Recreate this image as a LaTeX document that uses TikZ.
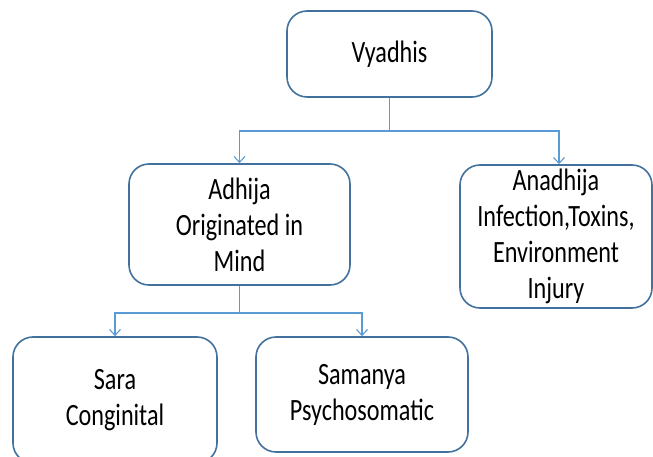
\documentclass[tikz,border=0pt]{standalone}
\usepackage{fontspec}
\newfontfamily\cf[FakeStretch=0.78]{Carlito}
\usetikzlibrary{arrows.meta}
\definecolor{boxline}{HTML}{41719C}
\definecolor{connline}{HTML}{5B9BD5}
\begin{document}
\begin{tikzpicture}[x=1pt,y=1pt,
  box/.style={draw=boxline, line width=1.6pt, rounded corners=20pt, fill=white,
    align=center, inner sep=0pt, font=\cf\fontsize{31}{36}\selectfont, text=black},
  conn/.style={draw=connline, line width=1.3pt},
  arr/.style={conn, -{Straight Barb[length=6pt,width=11pt,line width=1.1pt]}}]
\useasboundingbox (0,0) rectangle (653,-457);
\begin{scope}
\clip (0,0) rectangle (653,-457);
\node[box, minimum width=205pt, minimum height=86pt] (v) at (389.5,-54) {Vyadhis};
\node[box, minimum width=221pt, minimum height=121pt] (a) at (239.5,-224.5) {Adhija\\Originated in\\Mind};
\node[box, minimum width=192pt, minimum height=143pt] (an) at (556,-236.5) {Anadhija\\Infection,Toxins,\\Environment\\Injury};
\node[box, minimum width=204pt, minimum height=126pt] (s) at (115,-400) {Sara\\Conginital};
\node[box, minimum width=212pt, minimum height=115pt] (sm) at (362,-394.5) {Samanya\\Psychosomatic};
\coordinate (j1) at (389.5,-131);
\coordinate (j2) at (239.5,-313);
\draw[conn] (v.south) -- (j1);
\draw[arr] (j1) -| (a.north);
\draw[arr] (j1) -| ([xshift=3pt]an.north);
\draw[conn] (a.south) -- (j2);
\draw[arr] (j2) -| (s.north);
\draw[arr] (j2) -| (sm.north);
\end{scope}
\end{tikzpicture}
\end{document}
